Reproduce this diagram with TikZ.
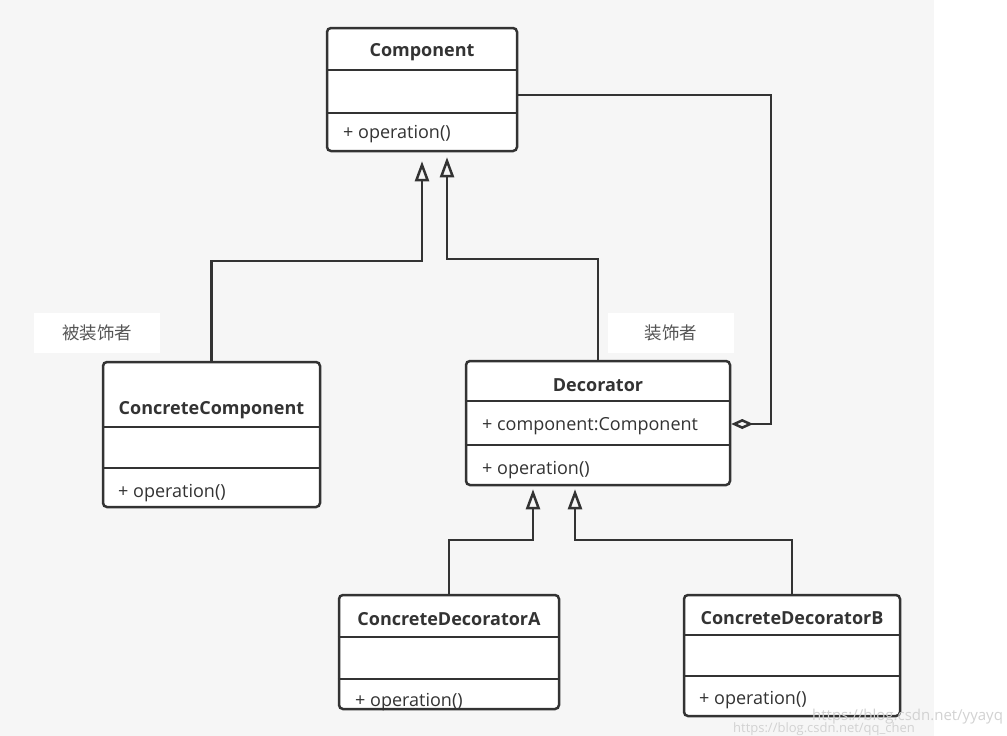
\documentclass[tikz,border=0pt]{standalone}
\usepackage{fontspec}
\setmainfont{Open Sans}
\newfontfamily\cjk{Noto Sans CJK SC}
\usetikzlibrary{arrows.meta}
\definecolor{bg}{HTML}{F6F6F6}
\definecolor{ln}{HTML}{333333}
\definecolor{tx}{HTML}{333333}
\definecolor{cn}{HTML}{555555}
\begin{document}
\begin{tikzpicture}[x=1pt,y=-1pt,
  box/.style={draw=ln, line width=2.5pt, fill=white, rounded corners=4pt, inner sep=0pt},
  divider/.style={draw=ln, line width=2.5pt},
  title/.style={font=\fontsize{18}{21}\selectfont\bfseries, text=tx, inner sep=0pt},
  member/.style={font=\fontsize{18}{21}\selectfont, text=tx, inner sep=0pt, anchor=west},
  conn/.style={draw=ln, line width=2.5pt},
  inh/.style={conn, -{Triangle[open, length=20pt, width=14pt]}},
  agg/.style={conn, -{Diamond[open, length=22pt, width=10pt]}},
  note/.style={fill=white, inner sep=0pt, minimum width=126pt, minimum height=40pt, font=\cjk\fontsize{17.5}{20}\selectfont, text=cn},
  wm/.style={font=\fontsize{15}{18}\selectfont, text=gray!35, inner sep=0pt}
]
\useasboundingbox (0,0) rectangle (1007,736);
\fill[bg] (0,0) rectangle (934,736);
\fill[white] (934,0) rectangle (1007,736);

% Component
\node[box, minimum width=190pt, minimum height=123pt] (comp) at (422,89.5) {};
\draw[divider] (comp.west |- 0,70) -- (comp.east |- 0,70);
\draw[divider] (comp.west |- 0,113) -- (comp.east |- 0,113);
\node[title] (compT) at (422,52) {Component};
\node[member] (compO) at (343,134) {+ operation()};

% ConcreteComponent
\node[box, minimum width=217pt, minimum height=145pt] (cc) at (211.5,434.5) {};
\draw[divider] (cc.west |- 0,427) -- (cc.east |- 0,427);
\draw[divider] (cc.west |- 0,468) -- (cc.east |- 0,468);
\node[title] (ccT) at (211.5,410) {ConcreteComponent};
\node[member] (ccO) at (118,493) {+ operation()};

% Decorator
\node[box, minimum width=264pt, minimum height=124pt] (dec) at (598,423) {};
\draw[divider] (dec.west |- 0,401) -- (dec.east |- 0,401);
\draw[divider] (dec.west |- 0,445) -- (dec.east |- 0,445);
\node[title] (decT) at (598,385) {Decorator};
\node[member] (decA) at (482,426) {+ component:Component};
\node[member] (decO) at (482,470) {+ operation()};

% ConcreteDecoratorA
\node[box, minimum width=220pt, minimum height=114pt] (cda) at (449,652) {};
\draw[divider] (cda.west |- 0,637) -- (cda.east |- 0,637);
\draw[divider] (cda.west |- 0,679) -- (cda.east |- 0,679);
\node[title] (cdaT) at (449,619) {ConcreteDecoratorA};
\node[member] (cdaO) at (355,702) {+ operation()};

% ConcreteDecoratorB
\node[box, minimum width=216pt, minimum height=121pt] (cdb) at (792,655.5) {};
\draw[divider] (cdb.west |- 0,635) -- (cdb.east |- 0,635);
\draw[divider] (cdb.west |- 0,676) -- (cdb.east |- 0,676);
\node[title] (cdbT) at (792,618) {ConcreteDecoratorB};
\node[member] (cdbO) at (699,700) {+ operation()};

% notes
\node[note] (n1) at (97,333) {被装饰者};
\node[note] (n2) at (671,333) {装饰者};

% inheritance
\draw[inh, shorten >=9pt] (cc.north) |- (422,261) -- (comp.south -| 422,0);
\draw[inh, shorten >=5pt] (dec.north) |- (447,259) -- (comp.south -| 447,0);
\draw[inh, shorten >=3pt] (cda.north) |- (533,540) -- (dec.south -| 533,0);
\draw[inh, shorten >=3pt] (cdb.north) |- (575,540) -- (dec.south -| 575,0);

% aggregation
\draw[agg] (comp.east |- 0,95) -| (771,424) -- (dec.east |- 0,424);

% watermark
\node[wm, anchor=west] (w1) at (812,717) {https://blog.csdn.net/yyayq};
\node[wm, anchor=west, font=\fontsize{13}{15}\selectfont] (w2) at (733,729) {https://blog.csdn.net/qq\_chen};
\end{tikzpicture}
\end{document}
